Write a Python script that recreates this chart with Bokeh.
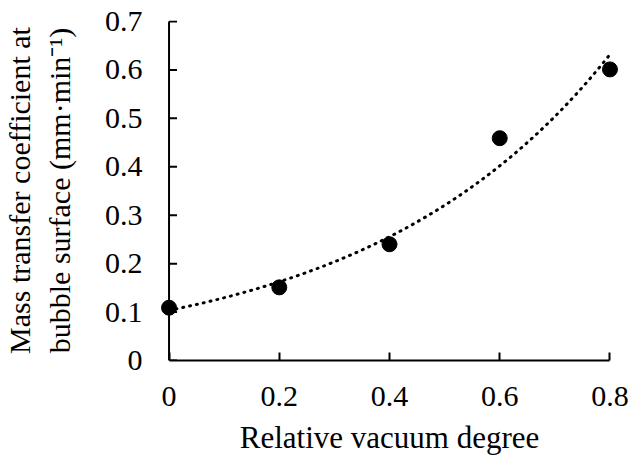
import numpy as np
from bokeh.plotting import figure
from bokeh.models import Range1d, FixedTicker
from bokeh.embed import file_html
from bokeh.resources import INLINE

# data
vacuum = [0.0, 0.2, 0.4, 0.6, 0.8]
coef = [0.109, 0.151, 0.240, 0.459, 0.601]
x_ticks = [0, 0.2, 0.4, 0.6, 0.8]
y_ticks = [0, 0.1, 0.2, 0.3, 0.4, 0.5, 0.6, 0.7]
x_label = "Relative vacuum degree"
y_label = "Mass transfer coefficient at\nbubble surface (mm\u00b7min\u207b\u00b9)"

# exponential trend line fitted to data
b, ln_a = np.polyfit(vacuum, np.log(coef), 1)
xs = np.linspace(0, 0.8, 200)
ys = np.exp(ln_a) * np.exp(b * xs)

FONT = "Liberation Serif"
FS = "30px"

p = figure(width=630, height=458, output_backend="svg", toolbar_location=None,
           x_range=Range1d(-0.03, 0.83), y_range=Range1d(0, 0.702),
           min_border_left=151, min_border_right=4, min_border_top=20, min_border_bottom=98)
p.outline_line_color = None
p.grid.visible = False
p.background_fill_color = "white"

# y axis line and inward ticks drawn at x = 0
p.segment(x0=[0], y0=[y_ticks[0]], x1=[0], y1=[y_ticks[-1]], line_color="black", line_width=2)
p.ray(x=[0] * len(y_ticks), y=y_ticks, length=8, length_units="screen", angle=0,
      line_color="black", line_width=2)

p.line(xs, ys, line_color="black", line_width=3, line_dash="1 6", line_cap="round")
p.scatter(vacuum, coef, size=15, color="black")

for ax in (p.xaxis, p.yaxis):
    ax.axis_line_width = 2
    ax.axis_line_color = "black"
    ax.major_tick_line_width = 2
    ax.major_tick_in = 8
    ax.major_tick_out = 0
    ax.minor_tick_line_color = None
    ax.major_label_text_font = FONT
    ax.major_label_text_font_size = FS
    ax.major_label_text_color = "black"
    ax.axis_label_text_font = FONT
    ax.axis_label_text_font_size = FS
    ax.axis_label_text_font_style = "normal"
    ax.axis_label_text_color = "black"

p.xaxis.axis_label_text_font_size = "31px"
p.yaxis.axis_line_color = None
p.yaxis.major_tick_line_color = None
p.xaxis.ticker = FixedTicker(ticks=x_ticks)
p.yaxis.ticker = FixedTicker(ticks=y_ticks)
p.xaxis.bounds = (0, 0.8)
p.xaxis.major_label_overrides = {0: "0", 0.2: "0.2", 0.4: "0.4", 0.6: "0.6", 0.8: "0.8"}
p.yaxis.major_label_overrides = {0: "0"}
p.xaxis.axis_label = x_label
p.yaxis.axis_label = y_label
p.xaxis.major_label_standoff = 26
p.yaxis.major_label_standoff = 10
p.xaxis.axis_label_standoff = 11
p.yaxis.axis_label_standoff = 26

open("out.html", "w").write(file_html(p, INLINE))
